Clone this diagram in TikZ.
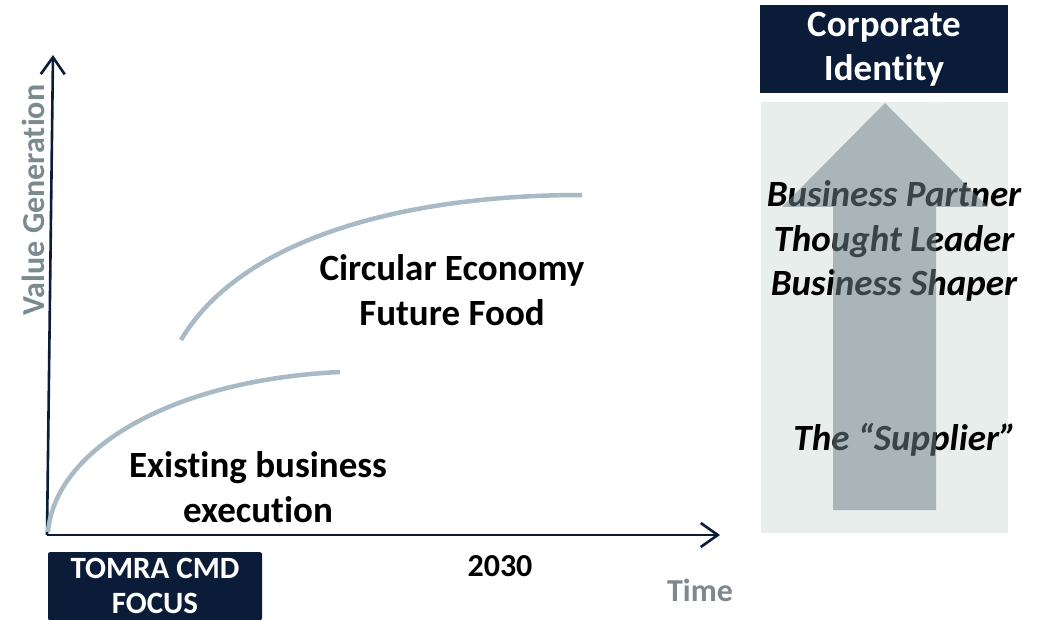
\documentclass[tikz,border=0pt]{standalone}
\usepackage{fontspec}
\setmainfont{Carlito}[Ligatures=NoCommon]
\usetikzlibrary{arrows.meta}

\definecolor{navy}{HTML}{0B1C39}
\definecolor{curvegray}{HTML}{A8BAC6}
\definecolor{labelgray}{HTML}{7A8A8F}
\definecolor{panelbg}{HTML}{E8EEEC}
\definecolor{arrowgray}{HTML}{70828A}

\begin{document}
\begin{tikzpicture}[x=1pt, y=-1pt,
  axis/.style={draw=navy, line width=2.6pt, -{Straight Barb[length=17pt, width=24pt, line width=2.6pt]}},
  growth/.style={draw=curvegray, line width=4.5pt},
  bigtext/.style={font=\fontsize{37}{45}\selectfont\bfseries, align=center},
  roletext/.style={font=\fontsize{37}{44.5}\selectfont\bfseries\itshape, align=center},
  axislabel/.style={font=\fontsize{32}{38}\selectfont\bfseries, text=labelgray},
  navybox/.style={fill=navy, text=white, align=center, inner sep=0pt}]

\useasboundingbox (0,0) rectangle (1055,620);

% axes
\coordinate (origin) at (47,535);
\coordinate (ytop) at (53,55);
\coordinate (xend) at (720,535);

\draw[axis] (origin) -- (ytop);
\draw[axis] (origin) -- (xend);

\node[axislabel, rotate=90] (vlabel) at (33,200) {Value Generation};
\node[axislabel] (tlabel) at (700,590) {Time};
\node[font=\fontsize{32}{38}\selectfont\bfseries] (year) at (500,566) {2030};

% growth curves
\draw[growth] (48,532) .. controls (55,450) and (170,380) .. (340,372);
\draw[growth] (181,340) .. controls (240,240) and (400,195) .. (582,195);

\node[bigtext] (existing) at (258,487) {Existing business\\execution};
\node[bigtext] (circular) at (452,290) {Circular Economy\\Future Food};

\node[navybox, rounded corners=2pt, minimum width=214pt, minimum height=68pt,
  font=\fontsize{31}{35}\selectfont\bfseries, anchor=north] (focus) at (155,552) {TOMRA CMD\\FOCUS};

% identity panel
\node[navybox, minimum width=248pt, minimum height=88pt,
  font=\fontsize{37}{44}\selectfont\bfseries] (identity) at (884,49) {Corporate\\Identity};

\fill[panelbg] (761,102) rectangle (1008,533);

\node[roletext] (roles) at (894,241) {Business Partner\\Thought Leader\\Business Shaper};
\node[roletext] (supplier) at (905,440) {The ``Supplier''};

\fill[arrowgray, fill opacity=0.52] (833,510) -- (833,207) -- (782,207) -- (885,103)
  -- (988,207) -- (936,207) -- (936,510) -- cycle;

\end{tikzpicture}
\end{document}
